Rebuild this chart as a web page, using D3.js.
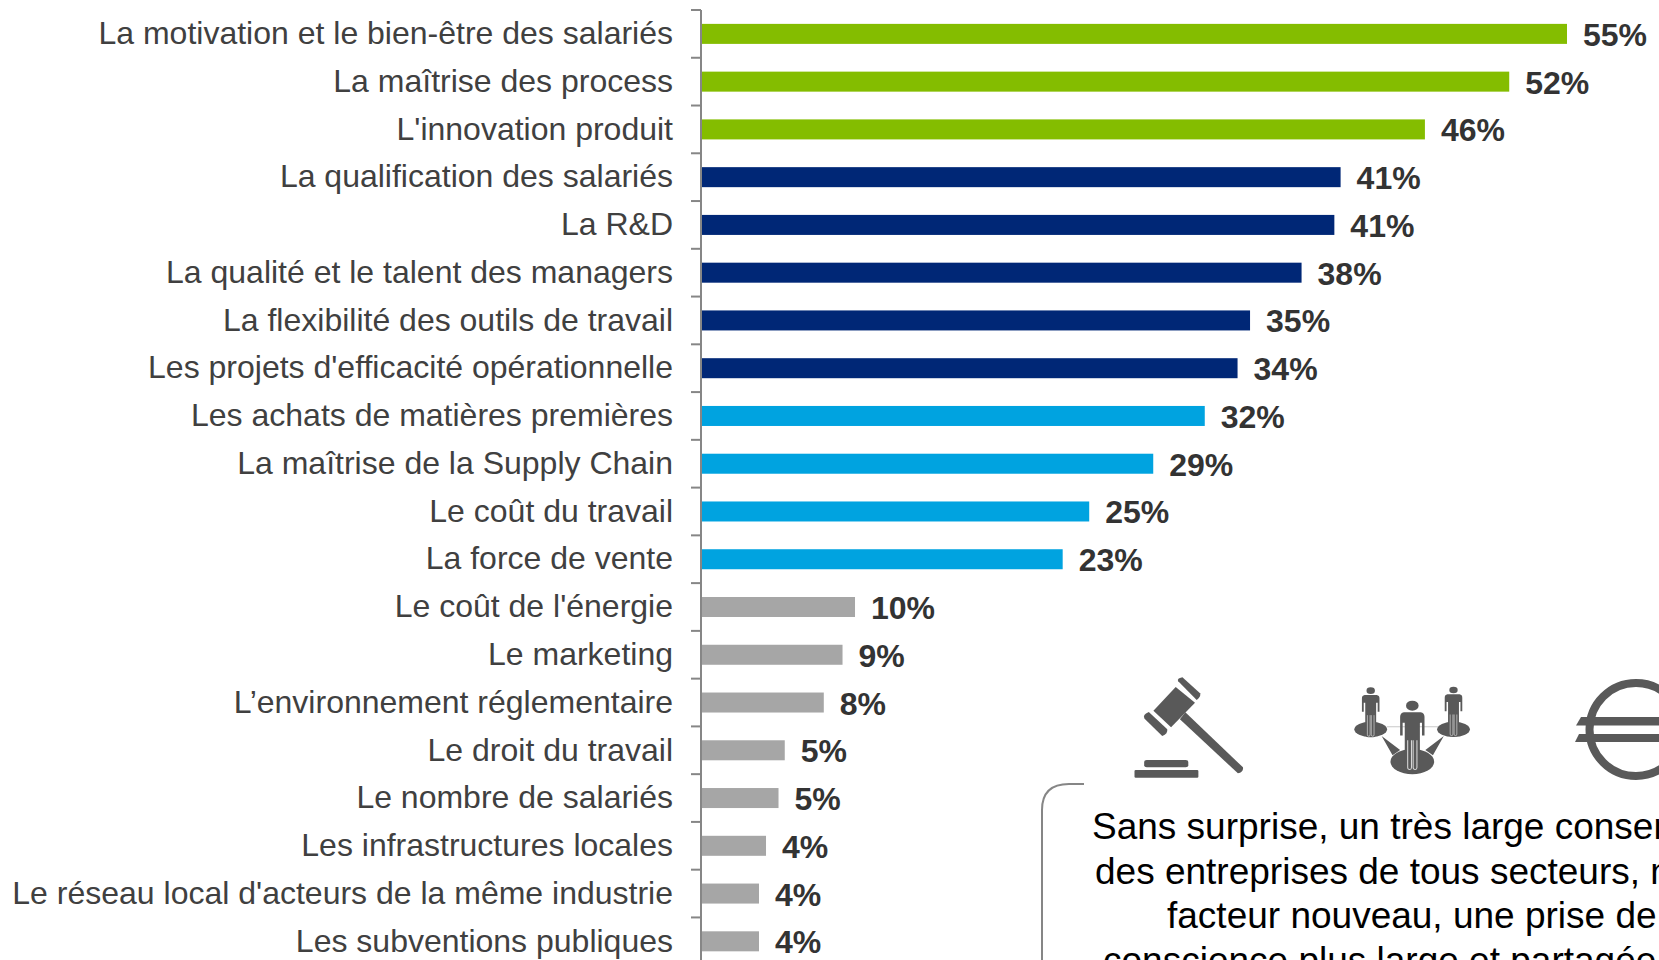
<!DOCTYPE html>
<html>
<head>
<meta charset="utf-8">
<script src="https://cdn.jsdelivr.net/npm/d3@7"></script>
<style>
html, body { margin: 0; padding: 0; background: #fff; overflow: hidden; }
svg { display: block; font-family: "Liberation Sans", Arial, sans-serif; }
</style>
</head>
<body>
<svg width="1659" height="960"></svg>
<script>
var categories = [
    "La motivation et le bien-être des salariés",
    "La maîtrise des process",
    "L'innovation produit",
    "La qualification des salariés",
    "La R&D",
    "La qualité et le talent des managers",
    "La flexibilité des outils de travail",
    "Les projets d'efficacité opérationnelle",
    "Les achats de matières premières",
    "La maîtrise de la Supply Chain",
    "Le coût du travail",
    "La force de vente",
    "Le coût de l'énergie",
    "Le marketing",
    "L’environnement réglementaire",
    "Le droit du travail",
    "Le nombre de salariés",
    "Les infrastructures locales",
    "Le réseau local d'acteurs de la même industrie",
    "Les subventions publiques"
];
var values = [55.4, 51.7, 46.3, 40.9, 40.5, 38.4, 35.1, 34.3, 32.2, 28.9, 24.8, 23.1, 9.8, 9.0, 7.8, 5.3, 4.9, 4.1, 3.65, 3.65];
var valueLabels = ["55%", "52%", "46%", "41%", "41%", "38%", "35%", "34%", "32%", "29%", "25%", "23%", "10%", "9%", "8%", "5%", "5%", "4%", "4%", "4%"];
var groups = ["green", "green", "green", "navy", "navy", "navy", "navy", "navy", "cyan", "cyan", "cyan", "cyan", "grey", "grey", "grey", "grey", "grey", "grey", "grey", "grey"];
var groupColors = { green: "#84bd00", navy: "#002776", cyan: "#00a3e0", grey: "#a6a6a6" };
var boxLines = [
    "Sans surprise, un très large consensus",
    "des entreprises de tous secteurs, m",
    "facteur nouveau, une prise de",
    "conscience plus large et partagée"
];

var svg = d3.select("svg");
var axisX = 701;
var iconColor = "#595959";

var x = d3.scaleLinear().domain([0, 55.4]).range([axisX + 1, 1567]);
var y = d3.scaleBand().domain(categories).range([10, 965.2]).paddingInner(0.581).paddingOuter(0.2905);
var step = y.step();

//Bars
svg.selectAll("rect.bar")
    .data(categories)
    .enter()
    .append("rect")
    .attr("class", "bar")
    .attr("x", x(0))
    .attr("y", function(d) { return y(d); })
    .attr("width", function(d, i) { return x(values[i]) - x(0); })
    .attr("height", y.bandwidth())
    .style("fill", function(d, i) { return groupColors[groups[i]]; });

//Axis with category labels
var yaxis = d3.axisLeft(y).tickSize(0).tickPadding(28);
var axisG = svg.append("g").attr("transform", "translate(" + axisX + ",0)").call(yaxis);
axisG.select(".domain").remove();
axisG.selectAll("text")
    .attr("dy", "0.32em")
    .style("font-family", "'Liberation Sans', Arial, sans-serif")
    .style("font-size", "32px")
    .style("fill", "#404040");

svg.append("line")
    .attr("x1", axisX).attr("x2", axisX)
    .attr("y1", 10).attr("y2", 960)
    .style("stroke", "#868686").style("stroke-width", 2);

//Ticks between the categories
svg.selectAll("line.tick")
    .data(categories)
    .enter()
    .append("line")
    .attr("class", "tick")
    .attr("x1", axisX - 10).attr("x2", axisX)
    .attr("y1", function(d) { return y(d) - step * y.paddingInner() / 2; })
    .attr("y2", function(d) { return y(d) - step * y.paddingInner() / 2; })
    .style("stroke", "#868686").style("stroke-width", 2);

//Value labels
svg.selectAll("text.value")
    .data(categories)
    .enter()
    .append("text")
    .attr("class", "value")
    .attr("x", function(d, i) { return x(values[i]) + 16; })
    .attr("y", function(d) { return y(d) + y.bandwidth() / 2 + 12; })
    .style("font-size", "32px")
    .style("font-weight", "bold")
    .style("fill", "#333333")
    .text(function(d, i) { return valueLabels[i]; });

//Text box bracket
svg.append("path")
    .attr("d", "M1084,784 H1069 Q1042,784 1042,810 V960")
    .style("fill", "none")
    .style("stroke", "#868686")
    .style("stroke-width", 2);

var boxX = [1092, 1095, 1167, 1103];
svg.selectAll("text.box")
    .data(boxLines)
    .enter()
    .append("text")
    .attr("class", "box")
    .attr("x", function(d, i) { return boxX[i]; })
    .attr("y", function(d, i) { return 839 + i * 44.7; })
    .style("font-size", "37px")
    .style("fill", "#000")
    .text(function(d) { return d; });

//Icons, drawn in the coordinates of the zoomed crop of the lower right corner
var icons = svg.append("g").attr("transform", "translate(1000,640) scale(0.4203,0.3333)");

//Gavel
icons.append("path").attr("d", "M418,141 L464,188 L407,262 L365,212 Z").style("fill", iconColor);
icons.append("path").attr("d", "M434,112 L476,160 Q479,170 468,180 L424,124 Q420,115 434,112 Z").style("fill", iconColor);
icons.append("path").attr("d", "M354,216 L398,268 Q400,282 386,288 L344,236 Q338,224 354,216 Z").style("fill", iconColor);
icons.append("path").attr("d", "M441,217 L578,382 Q580,396 566,400 L428,238 Z").style("fill", iconColor);
icons.append("rect").attr("x", 343).attr("y", 360).attr("width", 105).attr("height", 22).attr("rx", 6).style("fill", iconColor);
icons.append("rect").attr("x", 320).attr("y", 390).attr("width", 152).attr("height", 23).attr("rx", 3).style("fill", iconColor);

//People network
icons.append("path").attr("d", "M920,260 H1042").style("stroke", "#c8c8c8").style("stroke-width", 3);
icons.append("path").attr("d", "M908,288 L952,330 L934,346 Z M1056,288 L1012,330 L1030,346 Z").style("fill", iconColor);
var people = [
    { cx: 882, cy: 268, rx: 39, ry: 23, top: 152, r: 10, s: 0.72 },
    { cx: 1079, cy: 268, rx: 39, ry: 23, top: 150, r: 10, s: 0.72 },
    { cx: 981, cy: 365, rx: 52, ry: 38, top: 197, r: 15, s: 1 }
];
people.forEach(function(p) {
    icons.append("ellipse").attr("cx", p.cx).attr("cy", p.cy).attr("rx", p.rx).attr("ry", p.ry).style("fill", iconColor);
    icons.append("circle").attr("cx", p.cx).attr("cy", p.top).attr("r", p.r).style("fill", iconColor);
    var g = icons.append("g").attr("transform", "translate(" + p.cx + "," + (p.top + p.r * 1.3) + ") scale(" + p.s + ")");
    g.append("path")
        .attr("d", "M-20,0 H20 Q29,2 29,14 V70 H23 V32 H18 V158 Q18,176 8,176 H-8 Q-18,176 -18,158 V32 H-23 V70 H-29 V14 Q-29,2 -20,0 Z")
        .style("fill", iconColor);
    g.append("path")
        .attr("d", "M-11,84 V166 Q-11,172 -6,172 Q-2,172 -2,166 V84 M2,84 V166 Q2,172 7,172 Q11,172 11,166 V84")
        .style("fill", "none").style("stroke", "#d8d8d8").style("stroke-width", 2.5);
});

//Euro
svg.append("circle").attr("cx", 1636).attr("cy", 729.5).attr("r", 46.5).style("fill", "none").style("stroke", iconColor).style("stroke-width", 8);
svg.append("path").attr("d", "M1581,717 H1659 V725.5 H1576 Z").style("fill", iconColor);
svg.append("path").attr("d", "M1579,734 H1659 V742 H1575 Z").style("fill", iconColor);
</script>
</body>
</html>
